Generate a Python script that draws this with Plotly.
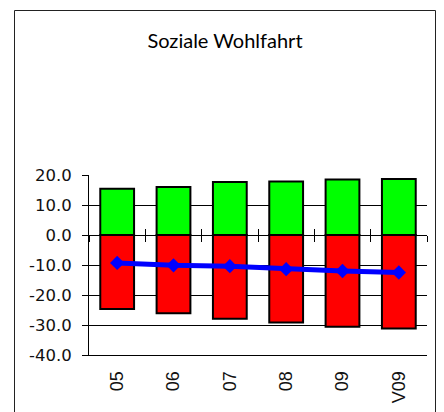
import plotly.graph_objects as go

# ── Data ──────────────────────────────────────────────────────────────────────
YEARS    = ["05", "06", "07", "08", "09", "V09"]
POSITIVE = [15.4, 16.0, 17.7, 17.8, 18.5, 18.7]
NEGATIVE = [-24.7, -26.1, -27.9, -29.2, -30.6, -31.2]
NET      = [-9.3, -10.1, -10.4, -11.4, -12.0, -12.5]
Y_TICKS  = [20, 10, 0, -10, -20, -30, -40]

GREEN = "#00FF00"
RED   = "#FF0000"
BLUE  = "#0000FF"

# the page adds an 8px body margin, so figure coords = page coords - 8
W, H = 444, 412
M_L, M_R, M_T, M_B = 81, 25, 167, 65
PW, PH = W - M_L - M_R, H - M_T - M_B


def px_x(p):
    return (p - M_L) / PW


def px_y(p):
    return (H - M_B - p) / PH


fig = go.Figure()
fig.add_trace(go.Bar(
    x=YEARS, y=POSITIVE,
    marker=dict(color=GREEN, line=dict(color="#000000", width=2)),
))
fig.add_trace(go.Bar(
    x=YEARS, y=NEGATIVE,
    marker=dict(color=RED, line=dict(color="#000000", width=2)),
))
fig.add_trace(go.Scatter(
    x=YEARS, y=NET,
    mode="lines+markers",
    line=dict(color=BLUE, width=5),
    marker=dict(symbol="diamond", size=11, color=BLUE),
))

zero_pos = (0 - Y_TICKS[-1]) / (Y_TICKS[0] - Y_TICKS[-1])
tick_axis = dict(
    overlaying="x", anchor="free", position=zero_pos,
    range=[-0.5, len(YEARS) - 0.5], tickmode="linear", tick0=-0.5, dtick=1,
    ticklen=6, tickcolor="#000000", tickwidth=1,
    showticklabels=False, showgrid=False, zeroline=False, showline=False,
)

fig.update_layout(
    width=W, height=H,
    margin=dict(l=M_L, r=M_R, t=M_T, b=M_B, pad=0),
    plot_bgcolor="#FFFFFF", paper_bgcolor="#FFFFFF",
    showlegend=False,
    barmode="relative", bargap=0.4,
    title=dict(text="Soziale Wohlfahrt", x=217 / W, xanchor="center",
               y=1 - 33 / H, yanchor="middle",
               font=dict(family="Lato", size=20, color="#000000")),
    xaxis=dict(
        type="category", showgrid=False, zeroline=False,
        showline=True, linecolor="#000000", linewidth=1,
        ticks="", tickangle=-90, ticklabelstandoff=8,
        tickfont=dict(family="Liberation Sans", size=18, color="#111111"),
    ),
    xaxis2=dict(ticks="outside", **tick_axis),
    xaxis3=dict(ticks="inside", **tick_axis),
    yaxis=dict(
        range=[Y_TICKS[-1], Y_TICKS[0]], tickvals=Y_TICKS,
        ticktext=[f"{v:.1f}" for v in Y_TICKS],
        showgrid=True, gridcolor="#000000", gridwidth=1,
        zeroline=True, zerolinecolor="#000000", zerolinewidth=1,
        showline=True, linecolor="#000000", linewidth=1,
        ticks="outside", ticklen=6, tickcolor="#000000", ticklabelstandoff=7,
        tickfont=dict(family="DejaVu Sans", size=16.5, color="#111111"),
    ),
    shapes=[dict(
        type="rect", xref="paper", yref="paper",
        x0=px_x(6.5), x1=px_x(427.5), y0=px_y(430), y1=px_y(2.5),
        line=dict(color="#222222", width=1), layer="below",
    )],
)

# invisible anchors so the overlay tick axes are drawn
fig.add_trace(go.Scatter(x=[0], y=[0], xaxis="x2", mode="markers",
                         marker=dict(opacity=0), hoverinfo="skip"))
fig.add_trace(go.Scatter(x=[0], y=[0], xaxis="x3", mode="markers",
                         marker=dict(opacity=0), hoverinfo="skip"))

fig.write_html("out.html")
